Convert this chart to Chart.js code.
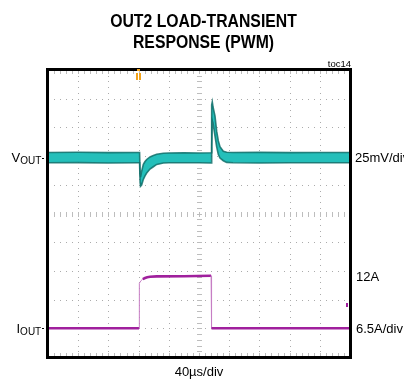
<!DOCTYPE html>
<html>
<head>
<meta charset="utf-8">
<script src="https://cdn.jsdelivr.net/npm/chart.js@4/dist/chart.umd.min.js"></script>
<style>
  html, body { margin: 0; padding: 0; background: #ffffff; }
  canvas { display: block; }
</style>
</head>
<body>
<canvas id="scope" width="404" height="384"></canvas>
<script>
// Output voltage deviation envelope (mV, relative to the settled level) vs time (µs)
const vTime  = [0, 40, 80, 120, 121.3, 122.0, 122.6, 124.0, 126.3, 128.5, 130.7, 135.1, 139.5, 144.0, 152.7, 160, 180, 200, 216.0, 216.8, 217.6, 218.6, 221.2, 223.4, 225.6, 227.8, 232.2, 236.7, 245, 280, 320, 360, 400];
const vUpper = [4.4, 4.6, 4.3, 4.4, 4.4, -14, -17, -12, -6, -3.5, -1.7, 0.5, 1.7, 2.8, 3.8, 4.0, 4.2, 4.0, 4.2, 46, 48.5, 44, 36, 23, 14.5, 9.4, 5.5, 4.6, 4.4, 4.5, 4.3, 4.4, 4.4];
const vLower = [-4.6, -4.4, -4.7, -4.6, -4.6, -22, -25, -24, -19, -16, -13.5, -10, -8, -6, -4.8, -4.6, -4.5, -4.6, -4.8, 10, 32, 30, 18.7, 9.3, 2.6, -0.5, -2.8, -4.2, -4.6, -4.7, -4.5, -4.6, -4.6];

// Load current (A) vs time (µs)
const iTime = [0, 120.6, 121.0, 123.2, 125.5, 128.5, 131.5, 135.1, 144.0, 180, 216.0, 216.6, 260, 320, 400];
const iAmps = [0, 0, 10.2, 10.8, 11.15, 11.4, 11.55, 11.66, 11.75, 11.8, 11.9, 0, 0, 0, 0];

// Screen settings: 10 x 10 divisions
const timePerDiv = 40;      // µs
const voltPerDiv = 25;      // mV
const ampPerDiv = 6.5;      // A
const vOffsetDiv = 1.95;    // VOUT reference level, divisions above centre
const iOffsetDiv = -4;      // IOUT zero level, divisions below centre

const titleLines = ['OUT2 LOAD-TRANSIENT', 'RESPONSE (PWM)'];
const figTag = 'toc14';
const timeLabel = '40\u00B5s/div';
const voltLabel = '25mV/div';
const ampLevelLabel = '12A';
const ampLabel = '6.5A/div';

const TEAL = '#24bfba';
const TEAL_EDGE = 'rgba(16, 110, 106, 0.85)';
const PURPLE = '#a0209d';

const xy = (xs, ys) => xs.map((x, i) => ({ x: x, y: ys[i] }));

const scopeDecor = {
  id: 'scopeDecor',
  beforeDatasetsDraw(chart) {
    const { ctx, chartArea: a, scales } = chart;
    const xs = scales.x, ys = scales.yV;
    const vMin = ys.min;
    const vStep = voltPerDiv / 5;
    const vCentre = -vOffsetDiv * voltPerDiv;
    ctx.save();
    ctx.fillStyle = '#ababab';
    // dotted graticule
    for (let t = timePerDiv; t < 10 * timePerDiv; t += timePerDiv) {
      const px = Math.round(xs.getPixelForValue(t));
      for (let k = 0; k <= 50; k++) {
        ctx.fillRect(px, Math.round(ys.getPixelForValue(vMin + k * vStep)), 1, 1);
      }
    }
    for (let d = 1; d < 10; d++) {
      const py = Math.round(ys.getPixelForValue(vMin + d * voltPerDiv));
      for (let t = 0; t <= 10 * timePerDiv + 0.01; t += timePerDiv / 5) {
        ctx.fillRect(Math.round(xs.getPixelForValue(t)), py, 1, 1);
      }
    }
    // minor ticks on the centre cross and on the top / bottom edges
    ctx.fillStyle = '#bdbdbd';
    const cx = Math.round(xs.getPixelForValue(5 * timePerDiv));
    const cy = Math.round(ys.getPixelForValue(vCentre));
    for (let k = 0; k <= 50; k++) {
      ctx.fillRect(cx - 2, Math.round(ys.getPixelForValue(vMin + k * vStep)), 5, 1);
    }
    for (let t = 0; t <= 10 * timePerDiv + 0.01; t += timePerDiv / 5) {
      const px = Math.round(xs.getPixelForValue(t));
      ctx.fillRect(px, cy - 2, 1, 5);
      ctx.fillRect(px, Math.round(a.top) + 1, 1, 3);
      ctx.fillRect(px, Math.round(a.bottom) - 4, 1, 3);
    }
    ctx.restore();
  },
  afterDatasetsDraw(chart) {
    const { ctx, chartArea: a, scales } = chart;
    const xs = scales.x, ys = scales.yV, yi = scales.yI;
    ctx.save();
    // frame
    ctx.strokeStyle = '#000000';
    ctx.lineWidth = 3;
    ctx.strokeRect(a.left - 0.5, a.top - 0.5, a.right - a.left + 1, a.bottom - a.top + 1);

    // trigger position marker
    const tx = Math.round(xs.getPixelForValue(3 * timePerDiv));
    ctx.fillStyle = '#f2a31b';
    ctx.fillRect(tx - 3, a.top + 3, 2, 7);
    ctx.fillRect(tx, a.top + 3, 2, 7);
    ctx.fillRect(tx - 2, a.top - 1, 3, 2);
    // current trigger level marker
    ctx.fillStyle = PURPLE;
    ctx.fillRect(Math.round(a.right) - 4, Math.round(yi.getPixelForValue(5.2)) - 2, 2, 4);

    // channel reference markers
    ctx.fillStyle = '#000000';
    const v0 = ys.getPixelForValue(0), i0 = yi.getPixelForValue(0);
    ctx.fillRect(a.left - 6, Math.round(v0), 2, 1);
    ctx.fillRect(a.left - 6, Math.round(i0), 2, 1);

    // title in a condensed bold face
    ctx.fillStyle = '#000000';
    ctx.textBaseline = 'alphabetic';
    ctx.textAlign = 'center';
    ctx.font = 'bold 19px "Liberation Sans", Arial, sans-serif';
    [26.7, 47.7].forEach((y, i) => {
      ctx.save();
      ctx.translate(203.5, y);
      ctx.scale(0.83, 1);
      ctx.fillText(titleLines[i], 0, 0);
      ctx.restore();
    });

    ctx.textAlign = 'right';
    ctx.font = '9.5px "Liberation Sans", sans-serif';
    ctx.fillText(figTag, a.right + 1, a.top - 3.5);

    ctx.font = '13px "Liberation Sans", sans-serif';
    ctx.textAlign = 'center';
    ctx.fillText(timeLabel, xs.getPixelForValue(5 * timePerDiv), a.bottom + 18.5);

    ctx.textAlign = 'left';
    ctx.fillText(voltLabel, a.right + 5, v0 + 4.7);
    ctx.fillText(ampLevelLabel, a.right + 6, yi.getPixelForValue(11.8) + 4.7);
    ctx.fillText(ampLabel, a.right + 6, i0 + 4.7);

    // channel names with subscripts
    const sub = (main, x, y) => {
      ctx.font = '13px "Liberation Sans", sans-serif';
      ctx.fillText(main, x, y);
      const w = ctx.measureText(main).width;
      ctx.font = '10px "Liberation Sans", sans-serif';
      ctx.fillText('OUT', x + w, y + 1.5);
    };
    sub('V', 11.5, v0 + 4.7);
    sub('I', 16.5, i0 + 4.7);
    ctx.restore();
  }
};

new Chart(document.getElementById('scope'), {
  type: 'line',
  data: {
    datasets: [
      {
        label: 'VOUT low',
        data: xy(vTime, vLower),
        yAxisID: 'yV',
        borderColor: TEAL_EDGE,
        borderWidth: 1.6,
        pointRadius: 0,
        fill: false,
        tension: 0
      },
      {
        label: 'VOUT high',
        data: xy(vTime, vUpper),
        yAxisID: 'yV',
        borderColor: TEAL_EDGE,
        backgroundColor: TEAL,
        borderWidth: 1.6,
        pointRadius: 0,
        fill: '-1',
        tension: 0
      },
      {
        label: 'IOUT',
        data: xy(iTime, iAmps),
        yAxisID: 'yI',
        borderColor: PURPLE,
        borderWidth: 2.6,
        pointRadius: 0,
        fill: false,
        tension: 0,
        segment: {
          borderWidth: c => Math.abs(c.p1.x - c.p0.x) < 2 ? 1 : undefined,
          borderColor: c => Math.abs(c.p1.x - c.p0.x) < 2 ? '#c77ec5' : undefined
        }
      }
    ]
  },
  options: {
    responsive: false,
    animation: false,
    events: [],
    layout: { padding: { left: 48, right: 54, top: 70, bottom: 27 } },
    plugins: { legend: { display: false }, tooltip: { enabled: false }, title: { display: false } },
    scales: {
      x: { type: 'linear', min: 0, max: 10 * timePerDiv, display: false },
      yV: { type: 'linear', min: -(5 + vOffsetDiv) * voltPerDiv, max: (5 - vOffsetDiv) * voltPerDiv, display: false },
      yI: { type: 'linear', min: -(5 + iOffsetDiv) * ampPerDiv, max: (5 - iOffsetDiv) * ampPerDiv, display: false }
    }
  },
  plugins: [scopeDecor]
});
</script>
</body>
</html>
